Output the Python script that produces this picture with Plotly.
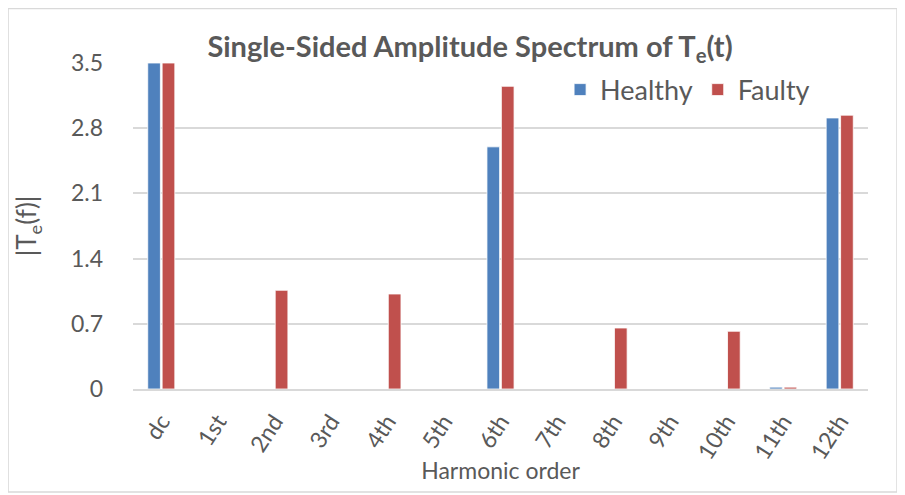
import plotly.graph_objects as go

categories = ["dc", "1st", "2nd", "3rd", "4th", "5th", "6th", "7th", "8th", "9th", "10th", "11th", "12th"]
healthy = [3.5, 0, 0, 0, 0, 0, 2.60, 0, 0, 0, 0, 0.02, 2.91]
faulty = [3.5, 0, 1.06, 0, 1.02, 0, 3.25, 0, 0.655, 0, 0.62, 0.02, 2.94]
y_ticks = [0, 0.7, 1.4, 2.1, 2.8, 3.5]
y_tick_labels = ["0", "0.7", "1.4", "2.1", "2.8", "3.5"]

FONT = "Lato, Carlito, Calibri, sans-serif"
GREY = "#595959"

fig = go.Figure()
fig.add_trace(go.Bar(name="Healthy", x=categories, y=healthy,
                     marker=dict(color="#4f81bd", line=dict(color="white", width=0.8))))
fig.add_trace(go.Bar(name="Faulty", x=categories, y=faulty,
                     marker=dict(color="#c0504d", line=dict(color="white", width=0.8))))

fig.update_layout(
    width=905, height=495,
    margin=dict(l=125, r=45, t=55, b=114),
    paper_bgcolor="white", plot_bgcolor="white",
    barmode="group", bargap=0.49, bargroupgap=0.12,
    font=dict(family=FONT, color=GREY),
    title=dict(text="<b>Single-Sided Amplitude Spectrum of T<sub>e</sub>(t)</b>",
               x=0.5105, xanchor="center", y=0.921, yanchor="middle",
               font=dict(size=29, color=GREY, family=FONT)),
    legend=dict(orientation="h", x=0.928, xanchor="right", y=0.917, yanchor="middle",
                bgcolor="rgba(0,0,0,0)", font=dict(size=27, color=GREY, family=FONT),
                itemwidth=30, traceorder="normal"),
    xaxis=dict(tickangle=-57, tickfont=dict(size=23, color=GREY), automargin=False,
               title=dict(text="Harmonic order", font=dict(size=23, color=GREY), standoff=0),
               showline=True, linecolor="#d9d9d9", linewidth=2, ticks="",
               showgrid=False, zeroline=False, ticklabelstandoff=8),
    yaxis=dict(range=[0, 3.5], tickvals=y_ticks, ticktext=y_tick_labels, automargin=False,
               tickfont=dict(size=23, color=GREY),
               title=dict(text="|T<sub>e</sub>(f)|", font=dict(size=26, color=GREY), standoff=26),
               showgrid=True, gridcolor="#d9d9d9", gridwidth=1.5,
               zeroline=False, ticks="", showline=False, ticklabelstandoff=29),
    shapes=[dict(type="rect", xref="paper", yref="paper",
                 x0=-0.170, x1=1.0395, y0=-0.316, y1=1.167,
                 line=dict(color="#d9d9d9", width=1.5), fillcolor="rgba(0,0,0,0)", layer="below")],
)

fig.write_html("out.html")
